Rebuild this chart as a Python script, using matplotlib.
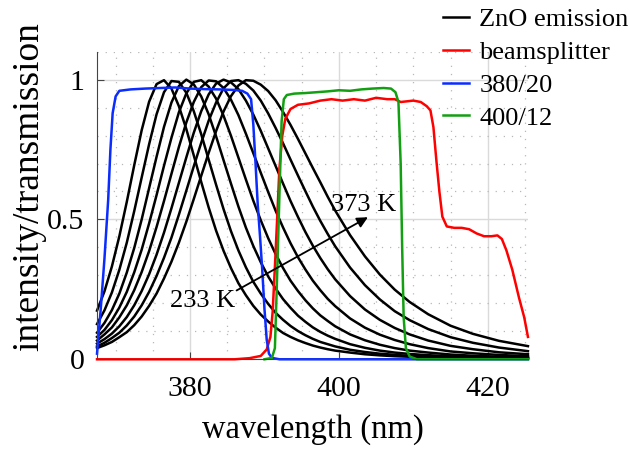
import matplotlib
matplotlib.use('Agg')
import matplotlib.pyplot as plt
from matplotlib.ticker import MultipleLocator, FixedLocator
from matplotlib.lines import Line2D

plt.rcParams['font.family'] = ['Liberation Serif', 'DejaVu Serif']

# ---------------- data ----------------
wavelength = [367.5, 368.5, 369.5, 370.5, 371.5, 372.5, 373.5, 374.5, 375.5,
              376.5, 377.5, 378.5, 379.5, 380.5, 381.5, 382.5, 383.5, 384.5,
              385.5, 386.5, 387.5, 388.5, 389.5, 390.5, 391.5, 392.5, 393.5,
              394.5, 395.5, 396.5, 397.5, 398.5, 399.5, 401.5, 403.5, 405.5,
              407.5, 409.5, 412.0, 415.0, 418.0, 421.5, 425.4]

zno_233 = [0.174, 0.243, 0.332, 0.440, 0.563, 0.694, 0.819, 0.921, 0.984,
           0.998, 0.968, 0.905, 0.823, 0.729, 0.634, 0.543, 0.460, 0.388,
           0.326, 0.272, 0.229, 0.191, 0.160, 0.135, 0.113, 0.094, 0.080,
           0.068, 0.058, 0.049, 0.042, 0.036, 0.031, 0.024, 0.018, 0.014,
           0.011, 0.009, 0.007, 0.006, 0.005, 0.004, 0.003]
zno_253 = [0.126, 0.175, 0.239, 0.320, 0.417, 0.530, 0.650, 0.769, 0.876,
           0.955, 0.995, 0.992, 0.953, 0.887, 0.805, 0.714, 0.624, 0.537,
           0.458, 0.389, 0.329, 0.277, 0.235, 0.198, 0.166, 0.141, 0.119,
           0.101, 0.086, 0.073, 0.062, 0.054, 0.046, 0.034, 0.026, 0.020,
           0.016, 0.012, 0.0095, 0.0075, 0.006, 0.0047, 0.0036]
zno_273 = [0.095, 0.130, 0.176, 0.235, 0.310, 0.398, 0.500, 0.612, 0.724,
           0.831, 0.918, 0.977, 1.000, 0.983, 0.940, 0.876, 0.797, 0.712,
           0.628, 0.546, 0.471, 0.405, 0.347, 0.296, 0.253, 0.215, 0.184,
           0.156, 0.134, 0.114, 0.098, 0.0845, 0.073, 0.054, 0.041, 0.031,
           0.024, 0.019, 0.0147, 0.0106, 0.0079, 0.0064, 0.0049]
zno_293 = [0.080, 0.105, 0.140, 0.185, 0.241, 0.311, 0.392, 0.486, 0.587,
           0.692, 0.792, 0.883, 0.951, 0.992, 0.998, 0.975, 0.932, 0.871,
           0.799, 0.721, 0.643, 0.567, 0.497, 0.433, 0.376, 0.326, 0.281,
           0.244, 0.211, 0.182, 0.157, 0.137, 0.118, 0.089, 0.068, 0.052,
           0.040, 0.031, 0.024, 0.017, 0.0127, 0.0091, 0.007]
zno_313 = [0.067, 0.089, 0.114, 0.150, 0.193, 0.247, 0.312, 0.387, 0.473,
           0.566, 0.663, 0.759, 0.847, 0.920, 0.973, 0.997, 0.994, 0.970,
           0.928, 0.873, 0.807, 0.737, 0.667, 0.598, 0.531, 0.471, 0.415,
           0.365, 0.321, 0.281, 0.247, 0.216, 0.190, 0.146, 0.113, 0.088,
           0.069, 0.054, 0.040, 0.028, 0.0215, 0.0155, 0.011]
zno_333 = [0.056, 0.072, 0.092, 0.118, 0.151, 0.193, 0.244, 0.304, 0.374,
           0.453, 0.540, 0.631, 0.722, 0.810, 0.887, 0.947, 0.986, 1.000,
           0.990, 0.966, 0.925, 0.875, 0.817, 0.754, 0.691, 0.628, 0.566,
           0.509, 0.455, 0.406, 0.362, 0.322, 0.286, 0.226, 0.178, 0.141,
           0.112, 0.089, 0.067, 0.048, 0.036, 0.025, 0.018]
zno_353 = [0.046, 0.059, 0.076, 0.095, 0.121, 0.153, 0.193, 0.241, 0.298,
           0.363, 0.435, 0.517, 0.603, 0.690, 0.774, 0.853, 0.918, 0.969,
           0.995, 0.998, 0.985, 0.961, 0.925, 0.879, 0.827, 0.772, 0.714,
           0.657, 0.601, 0.546, 0.495, 0.448, 0.404, 0.328, 0.265, 0.214,
           0.172, 0.140, 0.108, 0.079, 0.059, 0.042, 0.029]
zno_373 = [0.040, 0.050, 0.062, 0.079, 0.097, 0.122, 0.153, 0.191, 0.235,
           0.289, 0.349, 0.417, 0.492, 0.573, 0.656, 0.738, 0.816, 0.886,
           0.941, 0.979, 0.998, 0.996, 0.982, 0.959, 0.926, 0.884, 0.838,
           0.788, 0.736, 0.684, 0.633, 0.581, 0.532, 0.444, 0.368, 0.303,
           0.249, 0.205, 0.161, 0.120, 0.091, 0.066, 0.047]

red_wl = [367.5, 386.0, 388.0, 389.5, 390.3, 390.8, 391.1, 391.4, 391.7,
          392.0, 392.4, 392.8, 393.5, 394.5, 396.0, 397.5, 399.0, 400.5,
          402.0, 403.5, 405.0, 406.5, 407.5, 408.3, 409.0, 410.0, 411.0,
          411.8, 412.3, 412.7, 413.1, 413.5, 413.9, 414.5, 415.5, 416.5,
          417.5, 418.5, 419.5, 420.5, 421.3, 421.9, 422.5, 423.3, 424.2,
          424.9, 425.4]
red_T = [0.0, 0.0, 0.004, 0.012, 0.035, 0.08, 0.17, 0.33, 0.50,
         0.68, 0.80, 0.86, 0.895, 0.91, 0.915, 0.925, 0.93, 0.925,
         0.93, 0.925, 0.935, 0.93, 0.93, 0.92, 0.922, 0.925, 0.92,
         0.905, 0.89, 0.83, 0.71, 0.60, 0.51, 0.475, 0.47, 0.47,
         0.465, 0.45, 0.44, 0.44, 0.443, 0.43, 0.39, 0.32, 0.22,
         0.15, 0.08]

blue_wl = [367.5, 368.0, 368.5, 369.0, 369.3, 369.6, 370.0, 370.5, 372.0,
           374.0, 376.0, 378.0, 380.0, 382.0, 384.0, 386.0, 387.0, 387.7,
           388.2, 388.5, 388.8, 389.1, 389.4, 389.7, 390.0, 390.3, 390.6,
           391.0, 392.0, 425.4]
blue_T = [0.02, 0.18, 0.36, 0.57, 0.75, 0.88, 0.94, 0.96, 0.965,
          0.968, 0.97, 0.972, 0.968, 0.966, 0.965, 0.963, 0.96, 0.95,
          0.93, 0.84, 0.70, 0.55, 0.44, 0.32, 0.18, 0.07, 0.02,
          0.005, 0.0, 0.0]

green_wl = [390.0, 391.0, 391.4, 391.7, 392.0, 392.3, 392.6, 393.0, 394.0,
            395.5, 397.0, 398.5, 400.0, 401.5, 403.0, 404.5, 406.0, 407.0,
            407.6, 408.0, 408.3, 408.5, 408.7, 409.0, 409.5, 410.5, 425.4]
green_T = [0.0, 0.005, 0.04, 0.30, 0.58, 0.85, 0.93, 0.945, 0.95,
           0.952, 0.955, 0.958, 0.962, 0.96, 0.965, 0.968, 0.97, 0.968,
           0.955, 0.92, 0.70, 0.40, 0.15, 0.04, 0.01, 0.0, 0.0]

legend_labels = ['ZnO emission', 'beamsplitter', '380/20', '400/12']
x_ticks = [380, 400, 420]
y_ticks = [0, 0.5, 1]
y_ticklabels = ['0', '0.5', '1']
label_low = '233 K'
label_high = '373 K'

# ---------------- figure ----------------
fig = plt.figure(figsize=(6.3, 4.5), dpi=100)
ax = fig.add_axes([0.154, 0.2016, 0.684, 0.6836])

black, red, blue, green = 'black', '#ff0000', '#0a2cff', '#12a012'
lw = 1.8
for curve in [zno_233, zno_253, zno_273, zno_293, zno_313, zno_333, zno_353, zno_373]:
    ax.plot(wavelength, curve, color=black, lw=lw, clip_on=False,
            solid_joinstyle='round')
ax.plot(red_wl, red_T, color=red, lw=lw, clip_on=False)
ax.plot(blue_wl, blue_T, color=blue, lw=lw, clip_on=False)
ax.plot(green_wl, green_T, color=green, lw=lw, clip_on=False)

ax.set_xlim(367.5, 425.4)
ax.set_ylim(0, 1.1)
ax.xaxis.set_major_locator(FixedLocator(x_ticks))
ax.yaxis.set_major_locator(FixedLocator(y_ticks))
ax.set_yticklabels(y_ticklabels)
ax.xaxis.set_minor_locator(MultipleLocator(5))
ax.yaxis.set_minor_locator(MultipleLocator(0.1))

ax.set_axisbelow(True)
ax.grid(which='major', color='#dadada', lw=1.0, ls='-')
ax.grid(which='minor', color='#b8b8b8', lw=0.9, ls=(0, (1, 5.5)))

for s in ['top', 'right']:
    ax.spines[s].set_visible(False)
for s in ['left', 'bottom']:
    ax.spines[s].set_color('#444444')
    ax.spines[s].set_linewidth(0.8)

ax.tick_params(which='major', direction='in', length=5, width=0.8,
               color='#444444', labelsize=21.5)
ax.tick_params(axis='x', which='major', pad=12)
ax.tick_params(axis='y', which='major', pad=9)
ax.tick_params(which='minor', length=0)

ax.set_xlabel('wavelength (nm)', fontsize=23.5)
ax.set_ylabel('intensity/transmission', fontsize=27)
ax.xaxis.set_label_coords(0.5, -0.178)
ax.yaxis.set_label_coords(-0.118, 0.563)

ax.text(377.25, 0.188, label_low, fontsize=19, ha='left', va='baseline')
ax.text(398.95, 0.53, label_high, fontsize=19, ha='left', va='baseline')
ax.annotate('', xy=(403.9, 0.508), xytext=(386.25, 0.246),
            arrowprops=dict(arrowstyle='-|>', color='black', lw=1.3,
                            mutation_scale=16, shrinkA=0, shrinkB=0))

handles = [Line2D([], [], color=c, lw=lw) for c in [black, red, blue, green]]
fig.legend(handles, legend_labels, loc='upper left',
           bbox_to_anchor=(443 / 630, 1 - 8 / 450), frameon=False,
           fontsize=19, handlelength=1.0, handletextpad=0.38,
           labelspacing=0.35, borderpad=0, borderaxespad=0)

fig.savefig('out.png', dpi=100)
